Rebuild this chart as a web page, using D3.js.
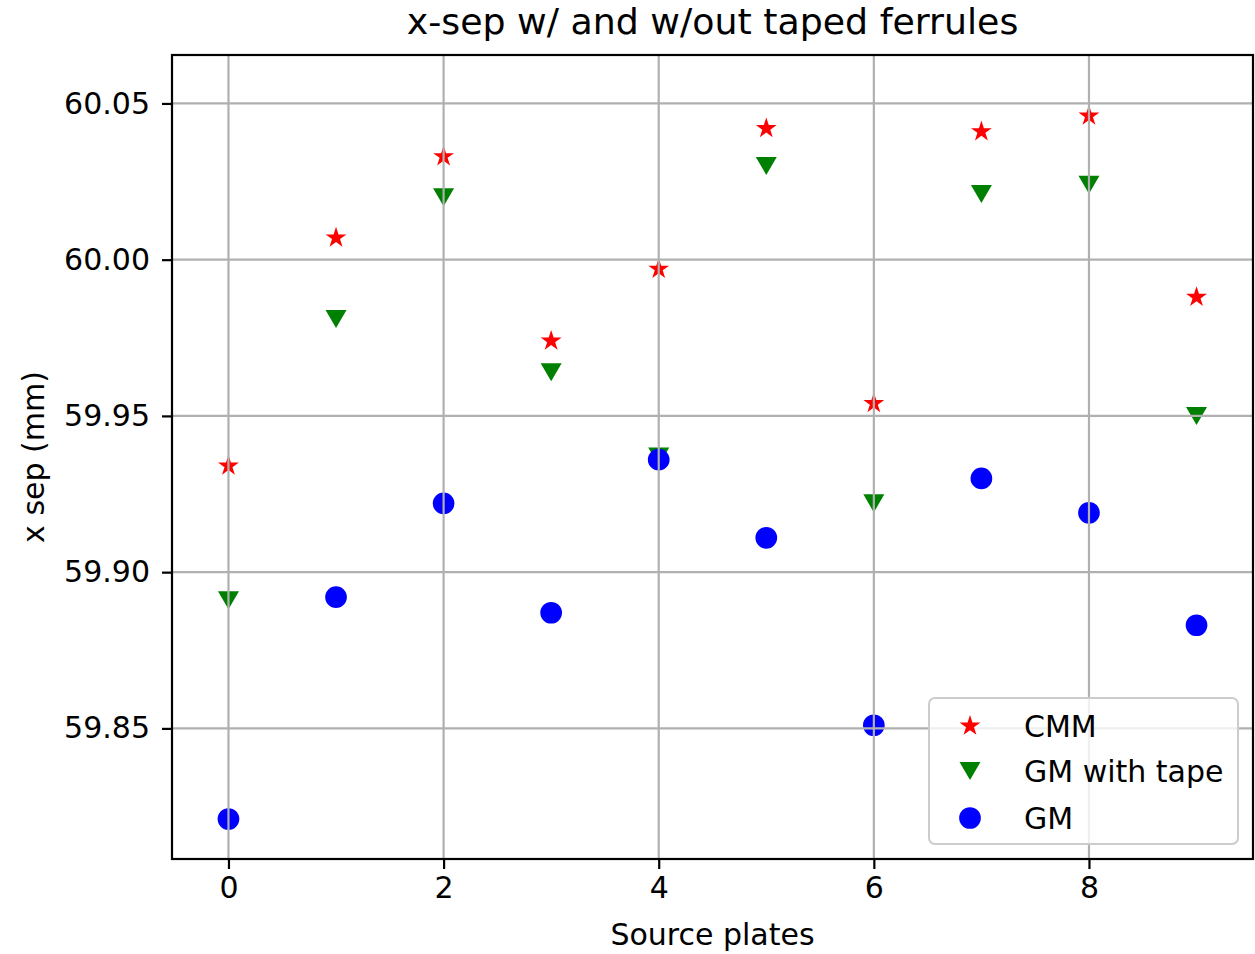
<!DOCTYPE html>
<html lang="en">
<head>
    <meta charset="utf-8">
    <title>x-sep w/ and w/out taped ferrules</title>
    <script type="text/javascript" src="https://cdn.jsdelivr.net/npm/d3@7"></script>
    <style type="text/css">
        body { margin: 0; background: #fff; }
        text { font-family: "DejaVu Sans", sans-serif; fill: #000; }
    </style>
</head>
<body>

<script type="text/javascript">

    // source plate index, one value per plate
    var plates = [0, 1, 2, 3, 4, 5, 6, 7, 8, 9];

    var cmm      = [59.934, 60.007, 60.033, 59.974, 59.997, 60.042, 59.954, 60.041, 60.046, 59.988];
    var gm_tape  = [59.891, 59.981, 60.020, 59.964, 59.937, 60.030, 59.922, 60.021, 60.024, 59.950];
    var gm       = [59.821, 59.892, 59.922, 59.887, 59.936, 59.911, 59.851, 59.930, 59.919, 59.883];

    var x_ticks = [0, 2, 4, 6, 8];
    var y_ticks = [59.85, 59.90, 59.95, 60.00, 60.05];

    var series_names  = ["CMM", "GM with tape", "GM"];
    var series_colors = ["#ff0000", "#008000", "#0000ff"];

    var width = 1255, height = 954;
    // plot box (note: "top" would clash with window.top)
    var box = {left: 172, top: 55, right: 1253, bottom: 859};
    var tick_font = 30, label_font = 30, title_font = 36.3;

    //Create SVG element
    var svg = d3.select("body")
        .append("svg")
        .attr("width", width)
        .attr("height", height);

    var x = d3.scaleLinear().domain([-0.525, 9.525]).range([box.left, box.right]);
    var y = d3.scaleLinear().domain([59.8082, 60.0655]).range([box.bottom, box.top]);

    // matplotlib style down triangle, centred on its box
    var tri_down = {
        draw: function (context, size) {
            var w = Math.sqrt(size), h = w * 0.86;
            context.moveTo(0, h / 2);
            context.lineTo(-w / 2, -h / 2);
            context.lineTo(w / 2, -h / 2);
            context.closePath();
        }
    };

    var symbols = [
        d3.symbol().type(d3.symbolStar).size(135),
        d3.symbol().type(tri_down).size(441),
        d3.symbol().type(d3.symbolCircle).size(370)
    ];

    var all_series = [cmm, gm_tape, gm];

    // markers, drawn below the grid like matplotlib does
    var marks = svg.append("g");
    all_series.forEach(function (vals, i) {
        marks.selectAll("path.s" + i)
            .data(plates)
            .enter()
            .append("path")
            .attr("class", "s" + i)
            .attr("d", symbols[i]())
            .attr("transform", d => "translate(" + x(d) + "," + y(vals[d]) + ")")
            .attr("fill", series_colors[i]);
    });

    // grid
    var grid = svg.append("g").attr("stroke", "#b0b0b0").attr("stroke-width", 2.2);
    grid.selectAll("line.gx")
        .data(x_ticks)
        .enter()
        .append("line")
        .attr("class", "gx")
        .attr("x1", d => x(d)).attr("x2", d => x(d))
        .attr("y1", box.top).attr("y2", box.bottom);
    grid.selectAll("line.gy")
        .data(y_ticks)
        .enter()
        .append("line")
        .attr("class", "gy")
        .attr("x1", box.left).attr("x2", box.right)
        .attr("y1", d => y(d)).attr("y2", d => y(d));

    // axes
    var x_axis = d3.axisBottom(x).tickValues(x_ticks).tickSize(10).tickPadding(8).tickFormat(d3.format("d"));
    var y_axis = d3.axisLeft(y).tickValues(y_ticks).tickSize(10).tickPadding(12).tickFormat(d3.format(".2f"));

    var gx = svg.append("g").attr("transform", "translate(0," + box.bottom + ")").call(x_axis);
    var gy = svg.append("g").attr("transform", "translate(" + box.left + ",0)").call(y_axis);

    [gx, gy].forEach(function (g) {
        g.select(".domain").remove();
        g.selectAll(".tick line").attr("stroke", "#000").attr("stroke-width", 2.2);
        g.selectAll(".tick text")
            .attr("fill", "#000")
            .style("font-family", "DejaVu Sans")
            .style("font-size", tick_font + "px");
    });

    // frame
    svg.append("rect")
        .attr("x", box.left).attr("y", box.top)
        .attr("width", box.right - box.left).attr("height", box.bottom - box.top)
        .attr("fill", "none")
        .attr("stroke", "#000")
        .attr("stroke-width", 2.2);

    // labels
    svg.append("text")
        .attr("x", (box.left + box.right) / 2).attr("y", 34)
        .attr("text-anchor", "middle")
        .style("font-size", title_font + "px")
        .text("x-sep w/ and w/out taped ferrules");

    svg.append("text")
        .attr("x", (box.left + box.right) / 2).attr("y", 945)
        .attr("text-anchor", "middle")
        .style("font-size", label_font + "px")
        .text("Source plates");

    svg.append("text")
        .attr("transform", "translate(44," + (box.top + box.bottom) / 2 + ") rotate(-90)")
        .attr("text-anchor", "middle")
        .style("font-size", label_font + "px")
        .text("x sep (mm)");

    // legend
    var legend = svg.append("g");
    legend.append("rect")
        .attr("x", 929).attr("y", 698)
        .attr("width", 309).attr("height", 146)
        .attr("rx", 6).attr("ry", 6)
        .attr("fill", "#fff").attr("fill-opacity", 0.8)
        .attr("stroke", "#cccccc").attr("stroke-width", 2);

    var rows = [726, 771, 818];
    series_names.forEach(function (name, i) {
        legend.append("path")
            .attr("d", symbols[i]())
            .attr("transform", "translate(970," + rows[i] + ")")
            .attr("fill", series_colors[i]);
        legend.append("text")
            .attr("x", 1024).attr("y", rows[i])
            .attr("dy", "0.35em")
            .style("font-size", label_font + "px")
            .text(name);
    });

</script>
</body>
</html>
